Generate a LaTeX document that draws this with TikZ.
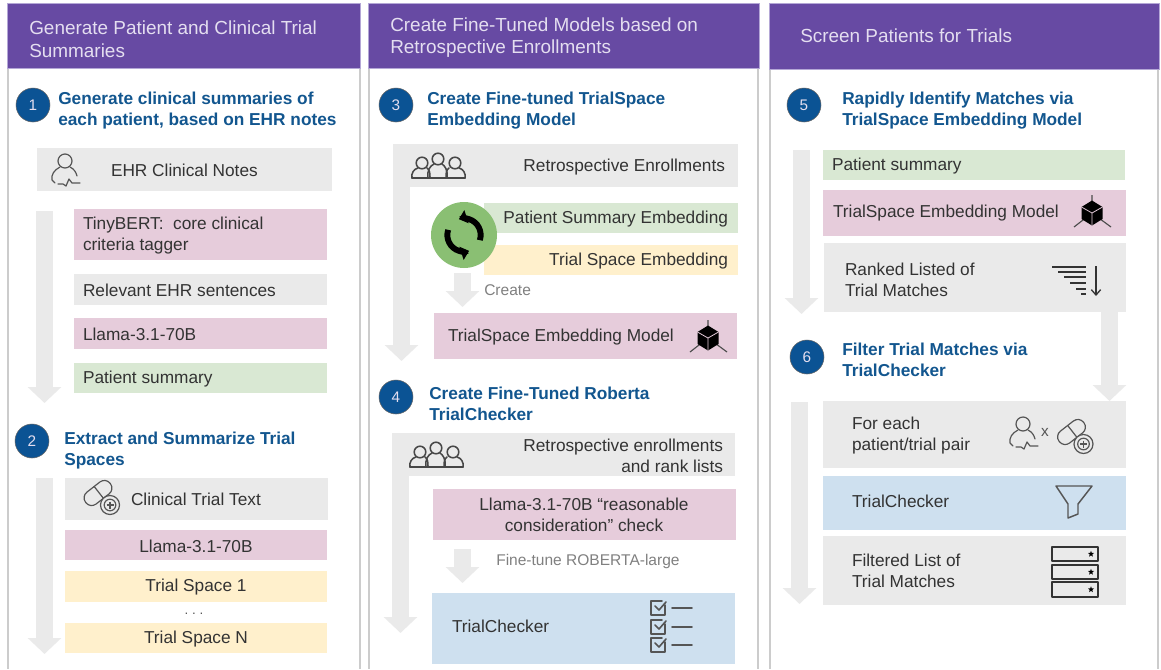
\documentclass[tikz,border=0pt]{standalone}
\usepackage{fontspec}
\setmainfont{Liberation Sans}
\usetikzlibrary{arrows.meta}
\definecolor{hdr}{HTML}{674AA3}
\definecolor{hdrline}{HTML}{B4A7D6}
\definecolor{hdrtxt}{HTML}{E4DEF0}
\definecolor{bgray}{HTML}{EAEAEA}
\definecolor{bpink}{HTML}{E6CCDB}
\definecolor{bgreen}{HTML}{D9E8D3}
\definecolor{byellow}{HTML}{FFF0CC}
\definecolor{bblue}{HTML}{CEE0EF}
\definecolor{headblue}{HTML}{12568F}
\definecolor{numblue}{HTML}{0B5394}
\definecolor{txt}{HTML}{333333}
\definecolor{icon}{HTML}{555555}
\definecolor{panelline}{HTML}{CCCCCC}
\definecolor{refresh}{HTML}{8ABF73}
\tikzset{
  boxnode/.style={inner sep=0pt,outer sep=0pt,draw=none,rectangle},
  body/.style={inner sep=0pt,outer sep=0pt,yshift=-.6pt,text=txt,align=left,anchor=west,font=\fontsize{12.95}{15.75}\selectfont},
  bodyr/.style={body,align=right,anchor=east},
  bodyc/.style={body,align=center,anchor=center},
  graytext/.style={inner sep=0pt,text=black!50,anchor=west,font=\fontsize{11.65}{13}\selectfont},
  hdrtext/.style={inner sep=0pt,yshift=-.8pt,text=hdrtxt,align=left,anchor=west,font=\fontsize{14.2}{17}\selectfont},
  headtext/.style={inner sep=0pt,yshift=-1.1pt,text=headblue,align=left,anchor=west,font=\fontsize{12.95}{15.75}\bfseries\selectfont},
  numcircle/.style={circle,fill=numblue,draw=black!60,line width=.4pt,minimum size=25.5pt,inner sep=0pt,text=hdrtxt,font=\fontsize{11.5}{13}\selectfont},
  bigarrow/.style={draw=bgray,line width=12.75pt,-{Triangle[length=12pt,width=24.5pt]}},
  iconline/.style={draw=icon,line width=.9pt,line cap=round,line join=round},
  pics/patient/.style={code={
    \draw[iconline] (0,-9) circle[radius=7];
    \draw[iconline] (-5,-3) .. controls (-11,0) and (-14,5) .. (-13,10) -- (-10,13);
    \draw[iconline] (5,-3) .. controls (9,-1) and (11,2) .. (12,6);
    \draw[iconline] (-7,14) -- (-2,14) -- (1,16) -- (4,9) -- (7,13) -- (15,13);
  }},
  pics/pill/.style={code={
    \begin{scope}[shift={(-4,-5)},rotate=38]
      \draw[iconline,rounded corners=5.4pt] (-15.5,-7.5) rectangle (15.5,7.5);
      \draw[iconline] (1,-7.5) -- (1,7.5);
    \end{scope}
    \draw[iconline,fill=bgray] (8,7) circle[radius=9.5];
    \draw[iconline] (8,7) circle[radius=5.8];
    \draw[draw=icon,line width=1.3pt] (4.5,7) -- (11.5,7) (8,3.5) -- (8,10.5);
  }},
  pics/people/.style={code={
    \begin{scope}[iconline/.append style={draw=txt!90,line width=1.15pt}]
    \draw[iconline] (-16,-3) circle[radius=5.8] (0,-7) circle[radius=5.8] (17,-3) circle[radius=5.8];
    \draw[iconline] (-26,12) -- (27,12);
    \draw[iconline] (-26,12) .. controls (-27,7) and (-24,3) .. (-20,2);
    \draw[iconline] (-10,12) .. controls (-11,4) and (-8,0) .. (-4,-2);
    \draw[iconline] (9,12) .. controls (10,4) and (7,0) .. (4,-2);
    \draw[iconline] (-11,2) .. controls (-8,4) and (-8,8) .. (-8,12);
    \draw[iconline] (11,2) .. controls (8,4) and (8,8) .. (8,12);
    \draw[iconline] (27,12) .. controls (28,7) and (25,3) .. (21,2);
    \end{scope}
  }},
  pics/cube/.style={code={
    \draw[draw=black!70,line width=.85pt] (0,-18) -- (0,0) (-18,14) -- (0,0) -- (19,14);
    \fill[black] (0,-12.5) -- (10.5,-6) -- (10.5,6) -- (0,12.5) -- (-10.5,6) -- (-10.5,-6) -- cycle;
    \draw[draw=bpink,line width=.6pt] (-10.5,-6) -- (0,0) -- (10.5,-6) (0,0) -- (0,12.5);
  }},
  pics/starmark/.style={code={
    \fill[black] (0,-3.2) -- (.8,-1.1) -- (3,-1) -- (1.3,.4) -- (1.9,2.6) -- (0,1.4) -- (-1.9,2.6) -- (-1.3,.4) -- (-3,-1) -- (-.8,-1.1) -- cycle;
  }},
  pics/checkrow/.style={code={
    \draw[iconline,line width=1.2pt] (7,-3) -- (7,7) -- (-7,7) -- (-7,-7) -- (4,-7);
    \draw[iconline,line width=1.2pt] (-3,-2) -- (1,2) -- (8,-6);
    \draw[iconline,line width=1.2pt] (14,0) -- (34,0);
  }},
}
\newcommand{\bx}[6]{\node[boxnode,fill=#2,minimum width={(#5-#3)*0.75pt},minimum height={(#6-#4)*0.75pt}] (#1) at ({(#3+#5)/2},{(#4+#6)/2}) {};}
\begin{document}
\begin{tikzpicture}[x=0.75pt,y=-0.75pt]
\useasboundingbox (0,0) rectangle (1161,669);
\fill[white] (0,0) rectangle (1161,669);
% panels
\coordinate (p1a) at (8,68); \coordinate (p1b) at (8,669);
\coordinate (p1c) at (360,68); \coordinate (p1d) at (360,669);
\coordinate (p2a) at (369,68); \coordinate (p2b) at (369,669);
\coordinate (p2c) at (758,68); \coordinate (p2d) at (758,669);
\coordinate (p3a) at (770,68); \coordinate (p3b) at (770,669);
\coordinate (p3c) at (1158,68); \coordinate (p3d) at (1158,669);
\draw[panelline,line width=.9pt] (p1a)--(p1b) (p1c)--(p1d) (p2a)--(p2b) (p2c)--(p2d) (p3a)--(p3b) (p3c)--(p3d);
\bx{h1}{hdr}{7}{3}{360}{68}
\bx{h2}{hdr}{368}{3}{759}{68}
\bx{h3}{hdr}{769}{3}{1159}{69}
\draw[hdrline,line width=.5pt] (h1.north west) rectangle (h1.south east) (h2.north west) rectangle (h2.south east) (h3.north west) rectangle (h3.south east);
\node[hdrtext] (h1t) at (29,38) {Generate Patient and Clinical Trial\\Summaries};
\node[hdrtext] (h2t) at (390,36.5) {Create Fine-Tuned Models based on\\Retrospective Enrollments};
\node[hdrtext] (h3t) at (800,35) {Screen Patients for Trials};

% arrows under boxes
\coordinate (a1s) at (44.5,211); \coordinate (a1e) at (44.5,403);
\coordinate (a2s) at (44.5,478); \coordinate (a2e) at (44.5,654);
\coordinate (a3s) at (401.5,187); \coordinate (a3e) at (401.5,361);
\coordinate (a4s) at (400.5,476); \coordinate (a4e) at (400.5,633);
\coordinate (a5s) at (801.5,150); \coordinate (a5e) at (801.5,314);
\coordinate (a7s) at (799.5,402); \coordinate (a7e) at (799.5,604);
\coordinate (a8s) at (462.5,273); \coordinate (a8e) at (462.5,307);
\coordinate (a9s) at (462.5,549); \coordinate (a9e) at (462.5,583);
\coordinate (ax) at (1109.5,0);
\foreach \s/\e in {a1s/a1e,a2s/a2e,a3s/a3e,a4s/a4e,a5s/a5e,a7s/a7e,a8s/a8e,a9s/a9e}
  \draw[bigarrow] (\s) -- (\e);

% Column 1
\node[numcircle] (n1) at (33,105) {1};
\node[headtext] (t1) at (58,109.5) {Generate clinical summaries of\\each patient, based on EHR notes};
\bx{ehr}{bgray}{37}{148}{332}{191}
\node[body] (ehrt) at (111,170) {EHR Clinical Notes};
\pic at (65,170) {patient};
\bx{tiny}{bpink}{74}{209}{327}{260}
\node[body] (tinyt) at (83,234.5) {TinyBERT:\ \ core clinical\\criteria tagger};
\bx{rel}{bgray}{74}{274}{327}{305}
\node[body] (relt) at (83,289.5) {Relevant EHR sentences};
\bx{ll1}{bpink}{74}{318}{327}{349}
\node[body] (ll1t) at (83,334) {Llama-3.1-70B};
\bx{ps1}{bgreen}{74}{363}{327}{393}
\node[body] (ps1t) at (83,378) {Patient summary};
\node[numcircle] (n2) at (32,441) {2};
\node[headtext] (t2) at (64,449) {Extract and Summarize Trial\\Spaces};
\bx{ctt}{bgray}{65}{478}{328}{520}
\node[body] (cttt) at (131,499) {Clinical Trial Text};
\pic at (102,498) {pill};
\bx{ll2}{bpink}{65}{530}{327}{560}
\node[bodyc] (ll2t) at (196,546) {Llama-3.1-70B};
\bx{ts1}{byellow}{65}{571}{327}{602}
\node[bodyc] (ts1t) at (196,586.5) {Trial Space 1};
\node[inner sep=0pt,text=icon,font=\fontsize{10}{11}\selectfont] (dots) at (194,614) {.\ .\ .};
\bx{tsn}{byellow}{65}{623}{327}{653}
\node[bodyc] (tsnt) at (196,638) {Trial Space N};

% Column 2
\node[numcircle] (n3) at (396,105) {3};
\node[headtext] (t3) at (427,109.5) {Create Fine-tuned TrialSpace\\Embedding Model};
\bx{enr}{bgray}{393}{144}{738}{187}
\node[bodyr] (enrt) at (725,166) {Retrospective Enrollments};
\pic at (438,166) {people};
\bx{pse}{bgreen}{484}{203}{738}{233}
\node[bodyr] (pset) at (728,218) {Patient Summary Embedding};
\bx{tse}{byellow}{484}{245}{738}{275}
\node[bodyr] (tset) at (728,260) {Trial Space Embedding};
\node[circle,fill=refresh,minimum size=49.5pt,inner sep=0pt] (ref) at (464,235) {};
\draw[line width=4.4pt,black,-{Triangle[length=6pt,width=10pt]}] (ref.center) ++(-18:12.5pt) arc[start angle=-18,end angle=108,radius=12.5pt];
\draw[line width=4.4pt,black,-{Triangle[length=6pt,width=10pt]}] (ref.center) ++(162:12.5pt) arc[start angle=162,end angle=288,radius=12.5pt];
\node[graytext] (crt) at (484,290) {Create};
\bx{tsm}{bpink}{434}{313}{737}{359}
\node[body] (tsmt) at (448,336) {TrialSpace Embedding Model};
\pic at (708,338) {cube};
\node[numcircle] (n4) at (396,397) {4};
\node[headtext] (t4) at (429,402.5) {Create Fine-Tuned Roberta\\TrialChecker};
\bx{enr2}{bgray}{392}{433}{735}{476}
\node[bodyr] (enr2t) at (723,455) {Retrospective enrollments\\and rank lists};
\pic at (436,455) {people};
\bx{ll3}{bpink}{433}{489}{736}{540}
\node[bodyc] (ll3t) at (584,514.5) {Llama-3.1-70B ``reasonable\\consideration'' check};
\node[graytext] (ftt) at (496,561) {Fine-tune ROBERTA-large};
\bx{tc}{bblue}{432}{593}{735}{664}
\node[body] (tct) at (452,626) {TrialChecker};
\pic at (658,608) {checkrow};
\pic at (658,627) {checkrow};
\pic at (658,645) {checkrow};

% Column 3
\node[numcircle] (n5) at (804,105) {5};
\node[headtext] (t5) at (842,109.5) {Rapidly Identify Matches via\\TrialSpace Embedding Model};
\bx{ps3}{bgreen}{823}{150}{1125}{180}
\node[body] (ps3t) at (832,165) {Patient summary};
\bx{tsm3}{bpink}{823}{190}{1126}{236}
\node[body] (tsm3t) at (833,212) {TrialSpace Embedding Model};
\pic at (1092,213) {cube};
\bx{rank}{bgray}{824}{243}{1126}{312}
\node[body] (rankt) at (845,279) {Ranked Listed of\\Trial Matches};
\foreach \yy/\xx in {267/1052,272/1058,277/1064,283/1070,289/1076,294/1081}
  \draw[draw=txt,line width=1pt] (\xx,\yy) -- (1086,\yy);
\coordinate (rks) at (1096,266); \coordinate (rke) at (1096,296);
\draw[draw=txt,line width=1pt,-{Straight Barb[length=4pt,width=7pt]}] (rks) -- (rke);
\node[numcircle] (n6) at (807,357) {6};
\node[headtext] (t6) at (842,358.5) {Filter Trial Matches via\\TrialChecker};
\bx{each}{bgray}{823}{401}{1126}{468}
\node[body] (eacht) at (852,434.5) {For each\\patient/trial pair};
\pic at (1023,433) {patient};
\node[inner sep=0pt,text=icon,font=\fontsize{11.5}{13}\selectfont] (xmark) at (1045,432) {x};
\pic at (1075.5,437) {pill};
\draw[bigarrow] (rank.south -| ax) -- (each.north -| ax);
\bx{tc3}{bblue}{823}{476}{1126}{530}
\node[body] (tc3t) at (852,501) {TrialChecker};
\draw[iconline,line width=1.1pt] (1056,486) -- (1092,486) -- (1078,504) -- (1078,514) -- (1068,518) -- (1068,504) -- cycle;
\bx{fil}{bgray}{823}{536}{1126}{605}
\node[body] (filt) at (852,570.5) {Filtered List of\\Trial Matches};
\draw[iconline,draw=txt,line width=1.2pt] (1052,547) rectangle (1098,561) (1052,565) rectangle (1098,579) (1052,582) rectangle (1098,597);
\pic at (1091,554) {starmark};
\pic at (1091,572) {starmark};
\pic at (1091,589.5) {starmark};
\end{tikzpicture}
\end{document}
